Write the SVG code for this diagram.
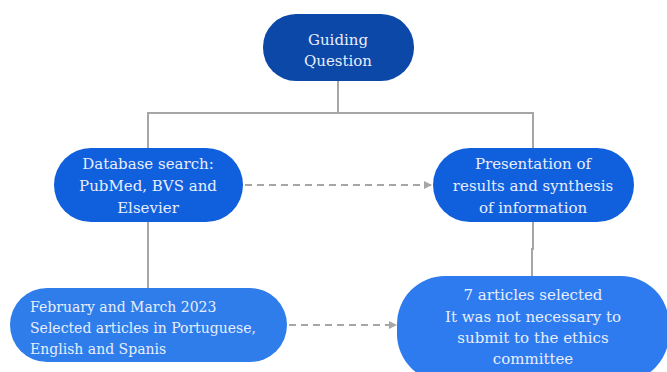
<svg xmlns="http://www.w3.org/2000/svg" width="667" height="372" viewBox="0 0 667 372">
<defs>
<style>
.t{font-family:"DejaVu Serif","Liberation Serif",serif;font-size:15px;fill:#e8eefc}
.s{font-size:14px}
.c{text-anchor:middle}
.ln{fill:none;stroke:#a6a6a6;stroke-width:2}
.ds{fill:none;stroke:#a6a6a6;stroke-width:2;stroke-dasharray:7 5}
</style>
<marker id="ah" markerWidth="8" markerHeight="8" refX="7" refY="4" orient="auto" markerUnits="userSpaceOnUse">
<path d="M0,0 L8,4 L0,8 z" fill="#a6a6a6"/>
</marker>
</defs>
<rect width="667" height="372" fill="#ffffff"/>
<g id="connectors">
<path class="ln" d="M338,81 V113 M148,113 H533 M148,112 V148 M533,112 V148"/>
<path class="ln" d="M148,222 V288"/>
<path class="ln" d="M533,222 V249 H532 V276"/>
<path class="ds" d="M245,185 H431" marker-end="url(#ah)"/>
<path class="ds" d="M289,325 H396" marker-end="url(#ah)"/>
</g>
<g id="guiding">
<rect x="263" y="14" width="151" height="67" rx="33" fill="#0b48a8"/>
<text class="t c" x="338" y="45">Guiding</text>
<text class="t c" x="338" y="66">Question</text>
</g>
<g id="database">
<rect x="54" y="148" width="189" height="74" rx="37" fill="#105fdc"/>
<text class="t c" x="148" y="169">Database search:</text>
<text class="t c" x="148" y="191">PubMed, BVS and</text>
<text class="t c" x="148" y="213">Elsevier</text>
</g>
<g id="presentation">
<rect x="433" y="148" width="201" height="74" rx="37" fill="#105fdc"/>
<text class="t c" x="533" y="169">Presentation of</text>
<text class="t c" x="533" y="191">results and synthesis</text>
<text class="t c" x="533" y="213">of information</text>
</g>
<g id="february">
<rect x="10" y="288" width="277" height="74" rx="37" fill="#2e7deb"/>
<text class="t s" x="30" y="312">February and March 2023</text>
<text class="t s" x="30" y="333">Selected articles in Portuguese,</text>
<text class="t s" x="30" y="354">English and Spanis</text>
</g>
<g id="articles">
<rect x="397" y="276" width="272" height="106" rx="48" fill="#2e7bef"/>
<text class="t c" x="533" y="300">7 articles selected</text>
<text class="t c" x="533" y="322">It was not necessary to</text>
<text class="t c" x="533" y="343">submit to the ethics</text>
<text class="t c" x="533" y="364">committee</text>
</g>
</svg>
